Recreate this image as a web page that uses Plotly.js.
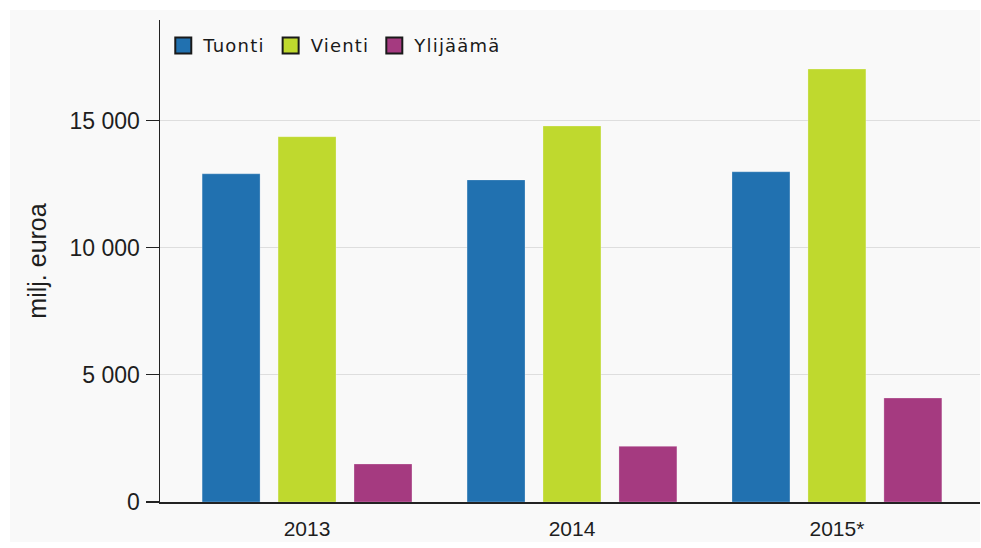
<!DOCTYPE html>
<html>
<head>
<meta charset="utf-8">
<script src="https://cdn.plot.ly/plotly-3.0.1.min.js"></script>
<style>
html,body{margin:0;padding:0;background:#fff;}
#chart{width:981px;height:548px;}
.legendtext{letter-spacing:1.2px;}
</style>
</head>
<body>
<div id="chart"></div>
<script>
const years = ["2013", "2014", "2015*"];
const tuonti = [12910, 12670, 12990];
const vienti = [14370, 14790, 17030];
const ylijaama = [1495, 2190, 4090];
const seriesNames = ["Tuonti", "Vienti", "Ylijäämä"];
const colors = ["#2171b0", "#bfd92e", "#a53a80"];
const yTickVals = [0, 5000, 10000, 15000];
const yTickText = ["0", "5 000", "10 000", "15 000"];

const values = [tuonti, vienti, ylijaama];
const traces = values.map((v, i) => ({
  type: "bar",
  name: seriesNames[i],
  x: years,
  y: v,
  showlegend: false,
  marker: {color: colors[i], line: {color: "rgba(255,255,255,0.5)", width: 0.5}},
  hoverinfo: "none"
}));
// legend-only entries (square swatches with dark border)
seriesNames.forEach((n, i) => {
  traces.push({
    type: "scatter", mode: "markers", name: n,
    x: [null], y: [null],
    marker: {symbol: "square", size: 16, color: colors[i], line: {color: "#1a1a1a", width: 2}},
    hoverinfo: "none"
  });
});

const layout = {
  width: 981, height: 548,
  margin: {l: 160, r: 1, t: 20, b: 46},
  paper_bgcolor: "#ffffff",
  plot_bgcolor: "rgba(0,0,0,0)",
  barmode: "group",
  bargap: 0.14,
  bargroupgap: 0.237,
  font: {family: "Liberation Sans, Arial, sans-serif", color: "#1e1e1e"},
  shapes: [{
    type: "rect", xref: "paper", yref: "paper", layer: "below",
    x0: -150/820, x1: 1.0, y0: -40/482, y1: 1 + 10/482,
    fillcolor: "#f9f9f9", line: {width: 0}
  }],
  xaxis: {
    type: "category",
    range: [-0.555, 2.54],
    showline: true, linecolor: "#222", linewidth: 1.5,
    ticks: "", showgrid: false,
    tickfont: {size: 21, color: "#1e1e1e"},
    ticklabelstandoff: 7,
    fixedrange: true
  },
  yaxis: {
    range: [0, 18960],
    tickvals: yTickVals,
    ticktext: yTickText,
    showline: true, linecolor: "#222", linewidth: 1.5,
    ticks: "outside", ticklen: 13, tickcolor: "#222", tickwidth: 1.2,
    ticklabelstandoff: 1,
    showgrid: true, gridcolor: "#dedede", gridwidth: 1,
    zeroline: false,
    tickfont: {size: 23, color: "#1e1e1e"},
    title: {text: "milj. euroa", font: {size: 25, color: "#1e1e1e"}, standoff: 16},
    fixedrange: true
  },
  legend: {
    orientation: "h",
    x: 0.004, xanchor: "left",
    y: 0.985, yanchor: "top",
    bgcolor: "rgba(0,0,0,0)",
    font: {family: "DejaVu Sans, Verdana, sans-serif", size: 18, color: "#1a1a1a"},
    itemwidth: 30,
    traceorder: "normal"
  },
  showlegend: true
};

Plotly.newPlot("chart", traces, layout, {displayModeBar: false, staticPlot: true});
</script>
</body>
</html>
